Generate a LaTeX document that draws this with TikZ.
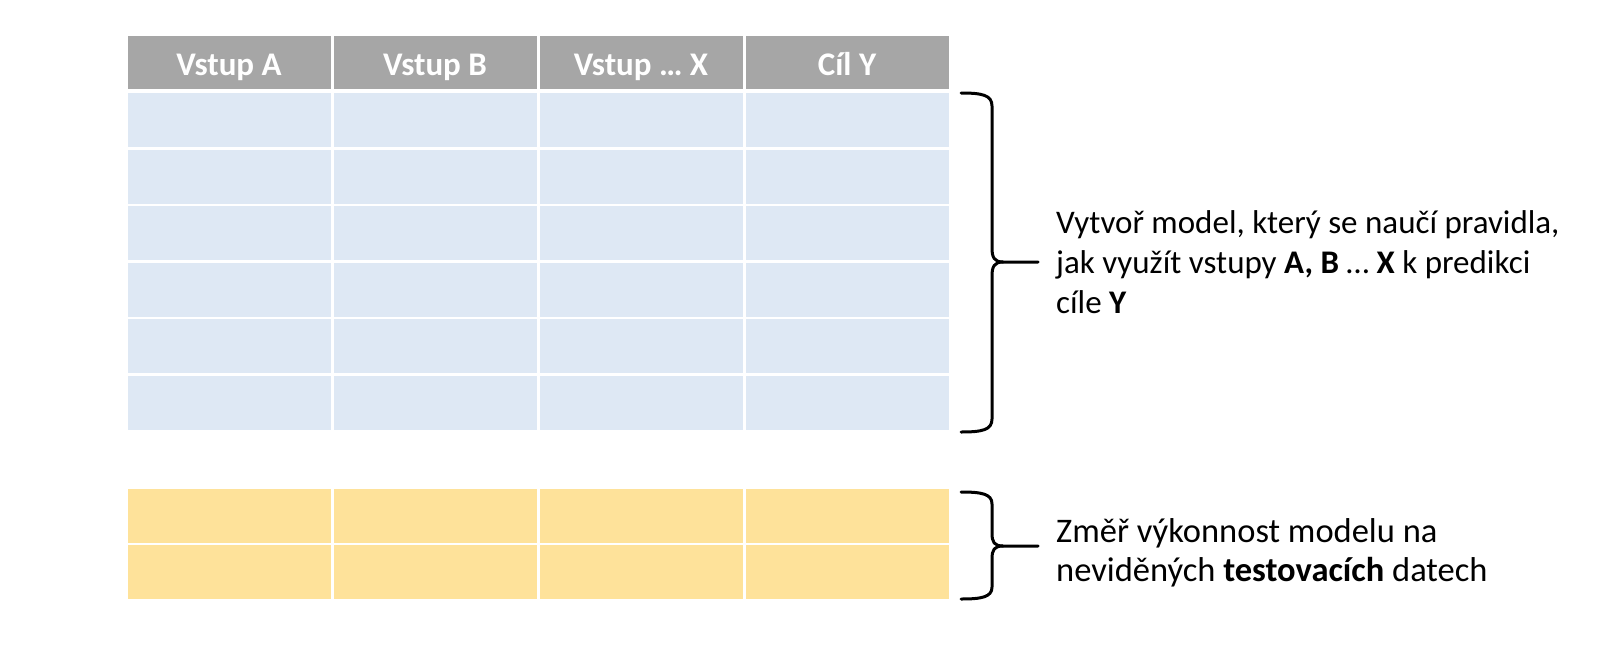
\documentclass[tikz,border=0pt]{standalone}
\usepackage{fontspec}
\setmainfont{Carlito}
\definecolor{hdrgray}{HTML}{A6A6A6}
\definecolor{rowblue}{HTML}{DEE8F4}
\definecolor{rowyellow}{HTML}{FEE29A}
\begin{document}
\begin{tikzpicture}[x=1pt,y=-1pt,
  cell/.style={rectangle, draw=none, inner sep=0pt, minimum width=203pt, minimum height=54pt},
  hdr/.style={cell, fill=hdrgray, minimum height=53pt, text height=30pt, text depth=5pt, text=white, font=\fontsize{33}{40}\selectfont\bfseries},
  bluecell/.style={cell, fill=rowblue},
  yelcell/.style={cell, fill=rowyellow},
  bracepath/.style={draw=black, line width=3pt, line cap=round, line join=round},
  txt/.style={anchor=base west, inner sep=0pt, font=\fontsize{33}{40}\selectfont},
  txtb/.style={txt, font=\fontsize{34.5}{40}\selectfont}
]
\useasboundingbox (0,0) rectangle (1605,656);
\fill[white] (0,0) rectangle (1605,656);
% header
\node[hdr] (h1) at (229,62.5) {Vstup A};
\node[hdr] (h2) at (435,62.5) {Vstup B};
\node[hdr] (h3) at (641,62.5) {Vstup … X};
\node[hdr] (h4) at (847,62.5) {Cíl Y};
% blue rows
\foreach \r in {0,...,5} {
  \foreach \c in {1,...,4} {
    \node[bluecell] (b\r\c) at ({229+206*(\c-1)},{93+56.5*\r+27}) {};
  }
}
% yellow rows
\foreach \r in {0,1} {
  \foreach \c in {1,...,4} {
    \node[yelcell] (y\r\c) at ({229+206*(\c-1)},{489+56*\r+27}) {};
  }
}
% braces
\coordinate (bt1) at (961,93);
\coordinate (bm1) at (1038,262);
\coordinate (bb1) at (961,432);
\draw[bracepath] (bt1) .. controls (982,93) and (992,95) .. (992,106) -- (992,248)
  .. controls (992,257) and (994,262) .. (1003,262) -- (bm1);
\draw[bracepath] (1003,262) .. controls (994,262) and (992,267) .. (992,276) -- (992,419)
  .. controls (992,430) and (982,432) .. (bb1);
\coordinate (bt2) at (961,492);
\coordinate (bm2) at (1038,546);
\coordinate (bb2) at (961,599);
\draw[bracepath] (bt2) .. controls (982,492) and (992,494) .. (992,504) -- (992,533)
  .. controls (992,542) and (994,546) .. (1003,546) -- (bm2);
\draw[bracepath] (1003,546) .. controls (994,546) and (992,550) .. (992,559) -- (992,587)
  .. controls (992,597) and (982,599) .. (bb2);
% texts
\node[txt] (t1a) at (1056,233) {Vytvoř model, který se naučí pravidla,};
\node[txt] (t1b) at (1056,273) {jak využít vstupy \textbf{A, B} … \textbf{X} k predikci};
\node[txt] (t1c) at (1056,313) {cíle \textbf{Y}};
\node[txtb] (t2a) at (1056,542) {Změř výkonnost modelu na};
\node[txtb] (t2b) at (1056,581) {neviděných \textbf{testovacích} datech};
\end{tikzpicture}
\end{document}
